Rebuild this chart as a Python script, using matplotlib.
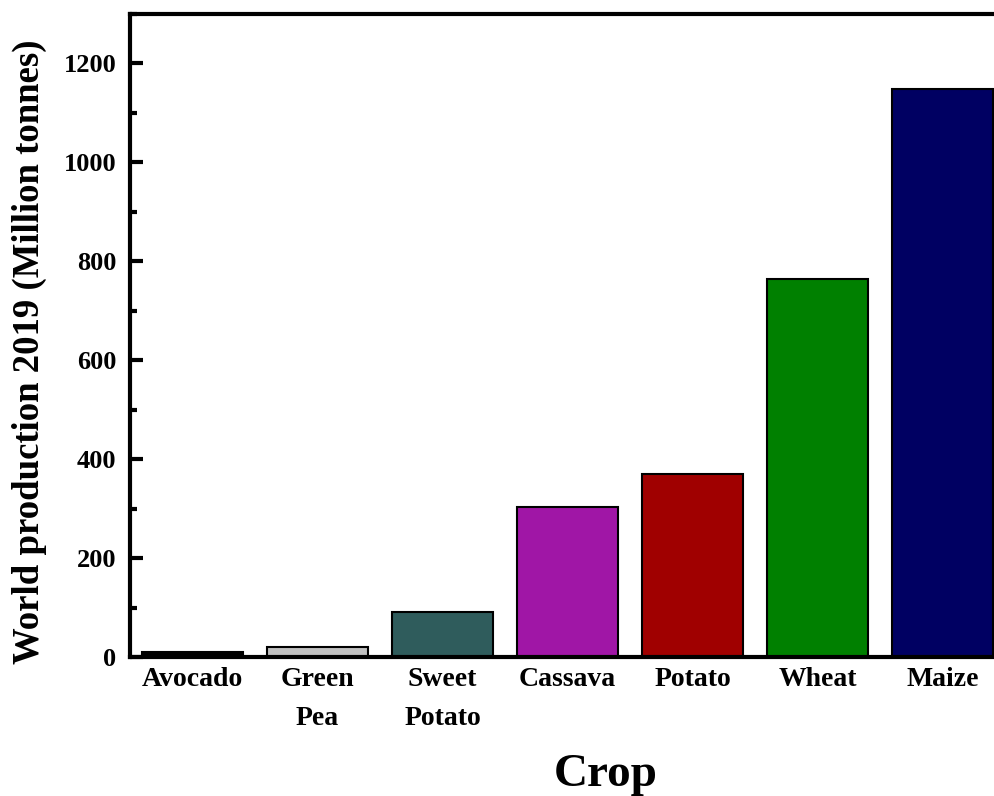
import matplotlib.pyplot as plt
from matplotlib.ticker import MultipleLocator

crops = ['Avocado', 'Green\nPea', 'Sweet\nPotato', 'Cassava', 'Potato', 'Wheat', 'Maize']
production = [10, 21, 92, 303, 370, 765, 1148]
colors = ['#000000', '#c0c0c0', '#2f5c5c', '#a016a6', '#a00000', '#008000', '#000062']

plt.rcParams['font.family'] = ['Liberation Serif', 'DejaVu Serif']
plt.rcParams['font.weight'] = 'bold'

fig = plt.figure(figsize=(9.95, 7.96), dpi=100)
ax = fig.add_axes([0.1307, 0.1746, 0.8794, 0.8078])

x = range(len(crops))
ax.bar(x, production, width=0.81, color=colors, edgecolor='black', linewidth=1.5)

ax.set_xlim(-0.5, 6.5)
ax.set_ylim(0, 1300)
ax.yaxis.set_major_locator(MultipleLocator(200))
ax.yaxis.set_minor_locator(MultipleLocator(100))
ax.set_xticks(list(x))
ax.set_xticklabels(crops, fontsize=20, fontweight='bold', linespacing=1.75, va='top')
ax.tick_params(axis='x', length=0, pad=7)
ax.tick_params(axis='y', which='major', direction='in', length=9, width=3, labelsize=19, pad=10)
ax.tick_params(axis='y', which='minor', direction='in', length=5, width=3)
for lab in ax.get_yticklabels():
    lab.set_fontweight('bold')

for s in ['left', 'top', 'bottom']:
    ax.spines[s].set_linewidth(3)
ax.spines['right'].set_visible(False)

ax.set_ylabel('World production 2019 (Million tonnes)', fontsize=26.5, fontweight='bold')
ax.yaxis.set_label_coords(-0.095, 0.474)
fig.text(606 / 995, 0.012, 'Crop', fontsize=34, fontweight='bold', ha='center', va='baseline')

fig.savefig('out.png', dpi=100)
